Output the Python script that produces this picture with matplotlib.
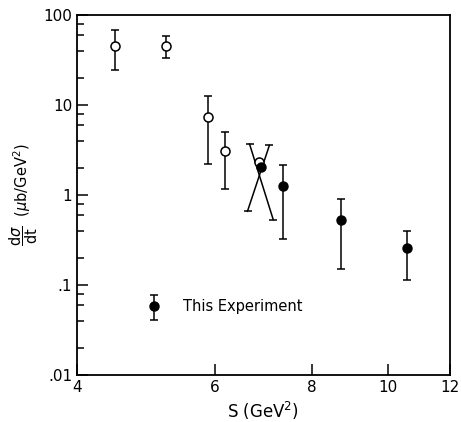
import matplotlib
matplotlib.use("Agg")
import matplotlib.pyplot as plt
import numpy as np
from matplotlib.ticker import FixedLocator, NullFormatter

# earlier measurements (open circles)
s_open = [4.47, 5.20, 5.88, 6.19]
y_open = [46.0, 46.0, 7.4, 3.1]
hi_open = [68.0, 58.8, 12.5, 5.06]
lo_open = [24.4, 33.4, 2.19, 1.17]
s_open_nobar = [6.84]
y_open_nobar = [2.3]

# this experiment (filled circles)
s_this = [7.33, 8.70, 10.56]
y_this = [1.25, 0.533, 0.258]
hi_this = [2.15, 0.891, 0.402]
lo_this = [0.325, 0.151, 0.1135]
s_this_nobar = [6.88]
y_this_nobar = [2.04]

# crossed band
band_a_s = [6.65, 7.13]
band_a_y = [3.68, 0.533]
band_b_s = [7.05, 6.61]
band_b_y = [3.56, 0.66]

# legend marker
leg_s, leg_y, leg_hi, leg_lo = 5.02, 0.0577, 0.0778, 0.0403

fig = plt.figure(figsize=(4.61, 4.22), dpi=100)
ax = fig.add_axes([0.167, 0.112, 0.809, 0.852])

lw = 1.1
ax.errorbar(s_open, y_open,
            yerr=[np.array(y_open) - np.array(lo_open), np.array(hi_open) - np.array(y_open)],
            fmt='o', mfc='white', mec='black', color='black', ms=6.5, mew=1.1,
            capsize=3, elinewidth=lw, capthick=lw, zorder=3)
ax.plot(s_open_nobar, y_open_nobar, 'o', mfc='white', mec='black', ms=6.5, mew=1.1, zorder=3)
ax.errorbar(s_this, y_this,
            yerr=[np.array(y_this) - np.array(lo_this), np.array(hi_this) - np.array(y_this)],
            fmt='o', mfc='black', mec='black', color='black', ms=6.5,
            capsize=3, elinewidth=lw, capthick=lw, zorder=4)
ax.plot(s_this_nobar, y_this_nobar, 'o', color='black', ms=6.5, zorder=4)

for xs, ys in [(band_a_s, band_a_y), (band_b_s, band_b_y)]:
    ax.plot(xs, ys, color='black', lw=lw, zorder=2)
    ax.plot(xs, ys, '_', color='black', ms=6, mew=lw, zorder=2)

ax.errorbar([leg_s], [leg_y], yerr=[[leg_y - leg_lo], [leg_hi - leg_y]],
            fmt='o', color='black', ms=6.5, capsize=3, elinewidth=lw, capthick=lw)
ax.text(5.47, leg_y, 'This Experiment', fontsize=10.5, va='center', ha='left')

ax.set_xscale('log')
ax.set_yscale('log')
ax.set_xlim(4, 12)
ax.set_ylim(0.01, 100)

ax.xaxis.set_major_locator(FixedLocator([4, 6, 8, 10, 12]))
ax.xaxis.set_minor_locator(FixedLocator([]))
ax.xaxis.set_minor_formatter(NullFormatter())
ax.set_xticklabels(['4', '6', '8', '10', '12'])

ax.yaxis.set_major_locator(FixedLocator([0.01, 0.1, 1, 10, 100]))
ax.set_yticklabels(['.01', '.1', '1', '10', '100'])
minors = [m * d for d in [0.01, 0.1, 1, 10] for m in [2, 4, 6, 8]]
ax.yaxis.set_minor_locator(FixedLocator(minors))
ax.yaxis.set_minor_formatter(NullFormatter())

ax.tick_params(axis='both', which='major', direction='in', length=8, width=1.1,
               labelsize=11, top=False, right=False)
ax.tick_params(axis='both', which='minor', direction='in', length=5, width=1.1,
               top=False, right=False)
for sp in ax.spines.values():
    sp.set_linewidth(1.3)

ax.set_xlabel('S (GeV$^2$)', fontsize=12, labelpad=4)
ax.set_ylabel(r'$\dfrac{\mathrm{d}\sigma}{\mathrm{dt}}$  ($\mu$b/GeV$^2$)',
              fontsize=10.5, labelpad=2)

fig.savefig('out.png', dpi=100)
